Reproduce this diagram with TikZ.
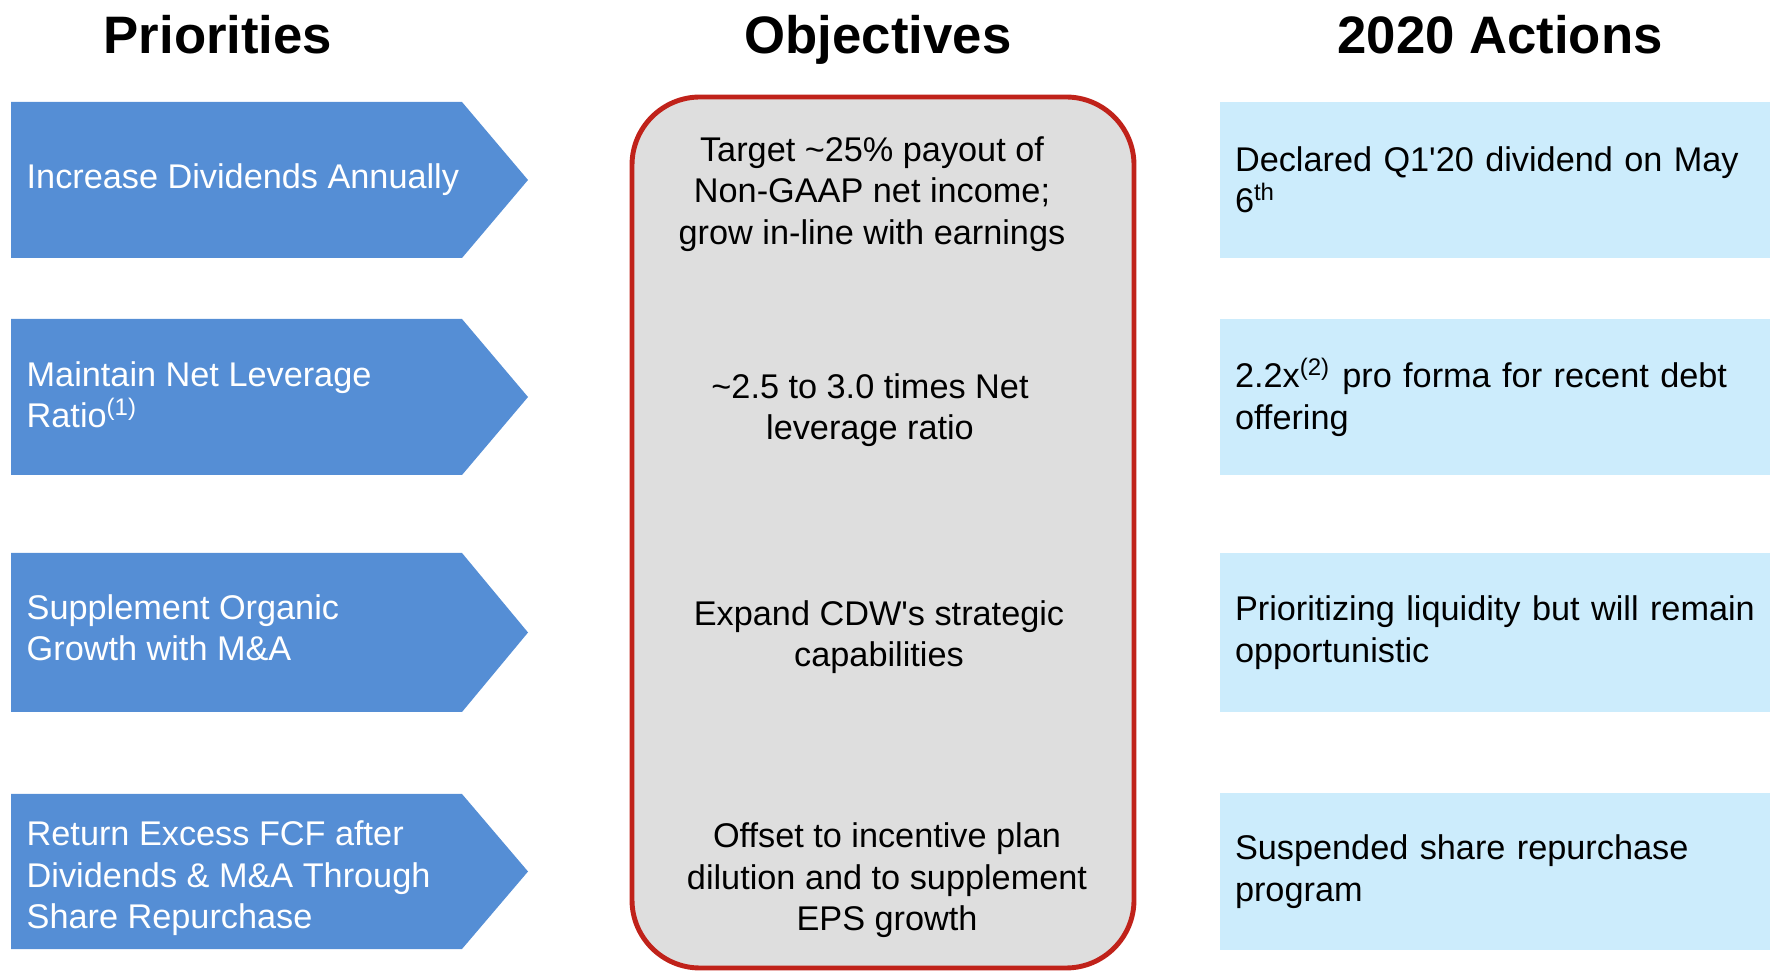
\documentclass[tikz,border=0pt]{standalone}
\usepackage{fontspec}
\setmainfont{Liberation Sans}
\usepackage{tikz}
\usetikzlibrary{positioning, calc}
\definecolor{prioblue}{RGB}{85,142,213}
\definecolor{actblue}{RGB}{204,236,252}
\definecolor{objgray}{RGB}{222,222,222}
\definecolor{objred}{RGB}{192,34,26}

\newcommand{\bodyfont}{\fontsize{9.75}{11.8}\selectfont}
\newcommand{\headfont}{\bfseries\fontsize{15}{18}\selectfont}

\begin{document}
\begin{tikzpicture}[
    head/.style={anchor=base, font=\headfont},
    priotext/.style={anchor=west, align=left, text=white, font=\bodyfont, inner sep=0pt},
    objtext/.style={align=center, font=\bodyfont, inner sep=0pt},
    action/.style={fill=actblue, minimum width=5.5cm, minimum height=1.56cm,
                   text width=5.2cm, align=left, inner xsep=0.15cm, inner ysep=0pt,
                   font=\bodyfont}]
  \useasboundingbox (0,0) rectangle (17.7,9.7);

  % column headings
  \node[head] (hprio) at (2.18,9.16) {Priorities};
  \node[head] (hobj) at (8.78,9.16) {Objectives};
  \node[head] (hact) at (15.00,9.16) {2020 Actions};

  % priorities (chevrons)
  \fill[prioblue] (0.11,8.68) -- (4.62,8.68) -- (5.28,7.90) -- (4.62,7.12) -- (0.11,7.12) -- cycle;
  \node[priotext] (prio1) at (0.26,7.90) {Increase Dividends Annually};

  \fill[prioblue] (0.11,6.51) -- (4.62,6.51) -- (5.28,5.73) -- (4.62,4.95) -- (0.11,4.95) -- cycle;
  \node[priotext] (prio2) at (0.26,5.75) {Maintain Net Leverage\\Ratio\textsuperscript{(1)}};

  \fill[prioblue] (0.11,4.17) -- (4.62,4.17) -- (5.28,3.375) -- (4.62,2.58) -- (0.11,2.58) -- cycle;
  \node[priotext] (prio3) at (0.26,3.425) {Supplement Organic\\Growth with M\&A};

  \fill[prioblue] (0.11,1.76) -- (4.62,1.76) -- (5.28,0.985) -- (4.62,0.21) -- (0.11,0.21) -- cycle;
  \node[priotext] (prio4) at (0.26,0.915) {Return Excess FCF after\\Dividends \& M\&A Through\\Share Repurchase};

  % objectives
  \draw[objred, fill=objgray, line width=1.4pt, rounded corners=0.68cm] (6.32,8.73) rectangle (11.34,0.02);
  \node[objtext] (obj1) at (8.72,7.76) {Target \textasciitilde25\% payout of\\Non-GAAP net income;\\grow in-line with earnings};
  \node[objtext] (obj2) at (8.70,5.60) {\textasciitilde2.5 to 3.0 times Net\\leverage ratio};
  \node[objtext] (obj3) at (8.79,3.33) {Expand CDW\textquotesingle s strategic\\capabilities};
  \node[objtext] (obj4) at (8.87,0.895) {Offset to incentive plan\\dilution and to supplement\\EPS growth};

  % 2020 actions
  \node[action] (act1) at (14.95,7.90) {Declared Q1\textquotesingle 20 dividend on May\\6\textsuperscript{th}};
  \node[action] (act2) at (14.95,5.73) {2.2x\textsuperscript{(2)} pro forma for recent debt\\offering};
  \node[action, minimum height=1.59cm] (act3) at (14.95,3.375) {Prioritizing liquidity but will remain\\opportunistic};
  \node[action] (act4) at (14.95,0.985) {Suspended share repurchase\\program};
\end{tikzpicture}
\end{document}
